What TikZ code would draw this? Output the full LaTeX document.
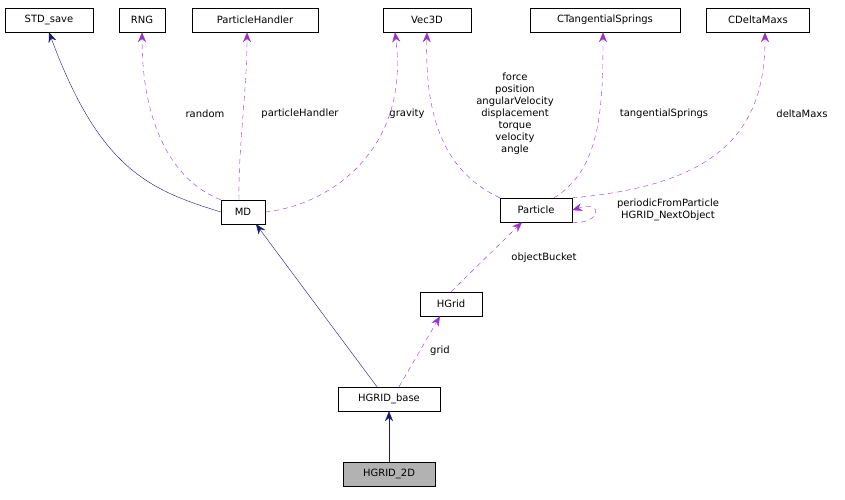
\documentclass[tikz,border=0pt]{standalone}
\usepackage{fontspec}
\setmainfont{DejaVu Sans}
\usetikzlibrary{arrows.meta, positioning}
\definecolor{inherit}{RGB}{25,25,112}
\definecolor{usage}{RGB}{153,50,204}

\begin{document}
\begin{tikzpicture}[
         x=1pt, y=-1pt,
         klass/.style={draw, font=\fontsize{10}{11}\selectfont, minimum height=24pt, inner xsep=6pt, inner ysep=0pt},
         base/.style={draw=inherit, -{Stealth[length=10pt,width=8pt,fill=inherit]}},
         uses/.style={draw=usage, dash pattern=on 5pt off 4pt, -{Stealth[length=10pt,width=8pt,fill=usage]}},
         lab/.style={font=\fontsize{10}{12}\selectfont, align=center, inner sep=1pt}
      ]
         \useasboundingbox (0,0) rectangle (845,499);
         % Nodes for classes
         \node[klass, minimum width=88pt] (stdsave) at (49,20) {STD\_save};
         \node[klass, minimum width=46pt] (rng) at (142,20) {RNG};
         \node[klass, minimum width=126pt] (handler) at (255,20) {ParticleHandler};
         \node[klass, minimum width=88pt] (vec) at (427,20) {Vec3D};
         \node[klass, minimum width=150pt] (springs) at (605,20) {CTangentialSprings};
         \node[klass, minimum width=103pt] (maxs) at (758,20) {CDeltaMaxs};
         \node[klass, minimum width=44pt] (md) at (243,212) {MD};
         \node[klass, minimum width=72pt] (particle) at (536,210) {Particle};
         \node[klass, minimum width=62pt] (hgrid) at (451,304) {HGrid};
         \node[klass, minimum width=102pt] (hbase) at (389,399) {HGRID\_base};
         \node[klass, minimum width=92pt, fill=black!30] (h2d) at (389,474) {HGRID\_2D};

         % Inheritance
         \draw[base] (md.west) .. controls (150,190) and (100,170) .. (stdsave.south);
         \draw[base] ([xshift=-12pt]hbase.north) -- ([xshift=13pt]md.south);
         \draw[base] (h2d) -- (hbase);

         % Usage
         \draw[uses] (md.north west) .. controls (170,180) and (142,120) .. (rng.south);
         \draw[uses] ([xshift=-4pt]md.north) .. controls (238,150) and (247,90) .. ([xshift=-8pt]handler.south);
         \draw[uses] (md.east) .. controls (330,205) and (410,150) .. ([xshift=-32pt]vec.south);
         \draw[uses] (particle.north west) .. controls (440,170) and (425,110) .. (vec.south);
         \draw[uses] ([xshift=18pt]particle.north) .. controls (600,170) and (603,110) .. ([xshift=-2pt]springs.south);
         \draw[uses] (particle.north east) .. controls (720,185) and (765,130) .. ([xshift=7pt]maxs.south);
         \draw[uses] (particle.south east) .. controls (600,225) and (605,200) .. (particle.east);
         \draw[uses] (hgrid.north) -- ([xshift=-14pt]particle.south);
         \draw[uses] ([xshift=10pt]hbase.north) -- ([xshift=-11pt]hgrid.south);

         % Member names
         \node[lab] (lrandom) at (205,114) {random};
         \node[lab] (lhandler) at (300,114) {particleHandler};
         \node[lab] (lgravity) at (407,114) {gravity};
         \node[lab] (lfields) at (515,114) {force\\position\\angularVelocity\\displacement\\torque\\velocity\\angle};
         \node[lab] (lsprings) at (664,114) {tangentialSprings};
         \node[lab] (lmaxs) at (802,114) {deltaMaxs};
         \node[lab] (lself) at (668,210) {periodicFromParticle\\HGRID\_NextObject};
         \node[lab] (lbucket) at (544,258) {objectBucket};
         \node[lab] (lgrid) at (440,351) {grid};
        ;
      \end{tikzpicture}
\end{document}
